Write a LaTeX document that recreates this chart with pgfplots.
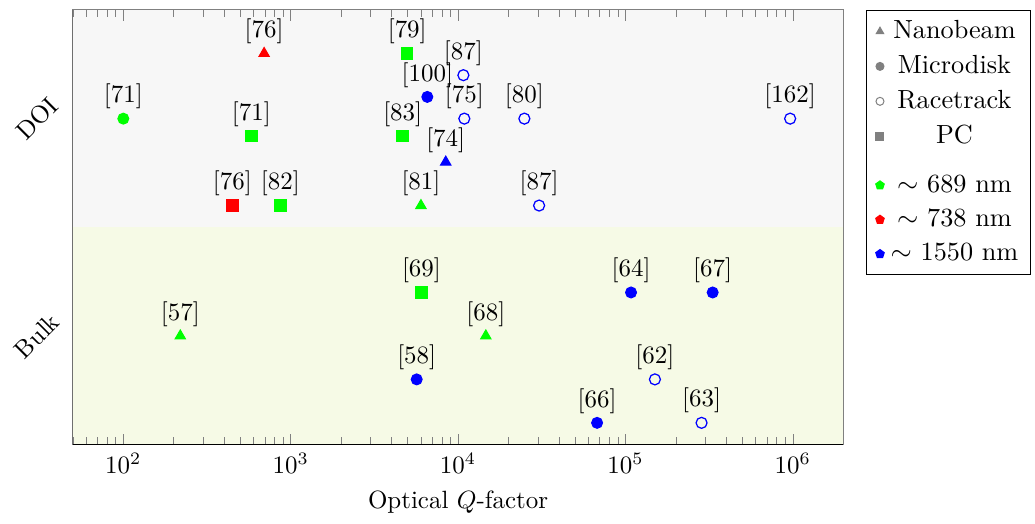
\documentclass[border=0pt]{standalone}
\usepackage{pgfplots}
\pgfplotsset{compat=1.18}
\usepackage{pgfplotstable}
\definecolor{doibg}{RGB}{247,247,247}
\definecolor{bulkbg}{RGB}{246,250,230}
\definecolor{lgray}{RGB}{128,128,128}

\pgfplotstableread{
x y lab
6000 5.5 81
219 2.5 57
14650 2.5 68
}\greentri
\pgfplotstableread{
x y lab
694 9 76
}\redtri
\pgfplotstableread{
x y lab
8440 6.5 74
}\bluetri
\pgfplotstableread{
x y lab
100 7.5 71
}\greencirc
\pgfplotstableread{
x y lab
6550 8 100
108000 3.5 64
332000 3.5 67
5660 1.5 58
67700 0.5 66
}\bluecirc
\pgfplotstableread{
x y lab
10760 8.5 87
10900 7.5 75
24900 7.5 80
964000 7.5 162
30500 5.5 87
150000 1.5 62
285000 0.5 63
}\blueopen
\pgfplotstableread{
x y lab
4970 9 79
582 7.1 71
4670 7.1 83
867 5.5 82
6045 3.5 69
}\greensq
\pgfplotstableread{
x y lab
448 5.5 76
}\redsq

\begin{document}
\begin{tikzpicture}
\begin{axis}[
  name=ax,
  set layers,
  scale only axis, width=308.4pt, height=174pt,
  xmode=log, xmin=50, xmax=2e6, ymin=0, ymax=10,
  axis line style={lgray},
  tick style={lgray},
  ytick={2.5,7.5}, yticklabels={Bulk,DOI},
  y tick style={draw=none},
  yticklabel style={xshift=-14.4pt, rotate=45, anchor=center},
  xlabel={Optical $Q$-factor},
  legend cell align=center,
  legend image code/.code={\path[draw=none,fill=none] (0cm,0cm) -- (0.16cm,0cm);
    \draw[#1] plot coordinates {(0.08cm,0cm)};},
  legend style={at={(1.03,1)}, anchor=north west, draw=black,
    font=\fontsize{10.5}{12}\selectfont, inner xsep=3pt, inner ysep=2pt,
    row sep=1.2pt},
  every axis plot/.append style={only marks, forget plot, point meta=explicit symbolic,
    nodes near coords={[\pgfplotspointmeta]},
    every node near coord/.style={anchor=south, inner sep=1pt, yshift=2.6pt, black, font=\fontsize{10}{12}\selectfont}},
]
\begin{pgfonlayer}{axis background}
\fill[doibg] (rel axis cs:0,0.5) rectangle (rel axis cs:1,1);
\fill[bulkbg] (rel axis cs:0,0) rectangle (rel axis cs:1,0.5);
\end{pgfonlayer}

\addlegendimage{only marks, mark=triangle*, lgray, mark size=1.7pt}
\addlegendentry{Nanobeam}
\addlegendimage{only marks, mark=*, lgray, mark size=1.6pt}
\addlegendentry{Microdisk}
\addlegendimage{only marks, mark=o, lgray, mark size=1.6pt}
\addlegendentry{Racetrack}
\addlegendimage{only marks, mark=square*, lgray, mark size=1.6pt}
\addlegendentry{PC}
\addlegendimage{empty legend}
\addlegendentry[inner ysep=0pt]{\rule{0pt}{3pt}}
\addlegendimage{only marks, mark=pentagon*, green, mark size=1.8pt}
\addlegendentry{$\sim$ 689 nm}
\addlegendimage{only marks, mark=pentagon*, red, mark size=1.8pt}
\addlegendentry{$\sim$ 738 nm}
\addlegendimage{only marks, mark=pentagon*, blue, mark size=1.8pt}
\addlegendentry{$\sim$ 1550 nm}

\addplot[mark=triangle*, green, mark size=2.4pt] table[x=x,y=y,meta=lab] {\greentri};
\addplot[mark=triangle*, red, mark size=2.4pt] table[x=x,y=y,meta=lab] {\redtri};
\addplot[mark=triangle*, blue, mark size=2.4pt] table[x=x,y=y,meta=lab] {\bluetri};
\addplot[mark=*, green, mark size=2.2pt] table[x=x,y=y,meta=lab] {\greencirc};
\addplot[mark=*, blue, mark size=2.2pt] table[x=x,y=y,meta=lab] {\bluecirc};
\addplot[mark=o, blue, mark size=2.2pt, mark options={line width=0.5pt}] table[x=x,y=y,meta=lab] {\blueopen};
\addplot[mark=square*, green, mark size=2.3pt] table[x=x,y=y,meta=lab] {\greensq};
\addplot[mark=square*, red, mark size=2.3pt] table[x=x,y=y,meta=lab] {\redsq};

\draw[black] (rel axis cs:0,1) -- (rel axis cs:0,0) -- (rel axis cs:1,0);
\end{axis}
\pgfresetboundingbox
\path ([xshift=-29.2pt,yshift=-31.6pt]ax.south west) rectangle ([xshift=76.8pt,yshift=4pt]ax.north east);
\end{tikzpicture}
\end{document}
